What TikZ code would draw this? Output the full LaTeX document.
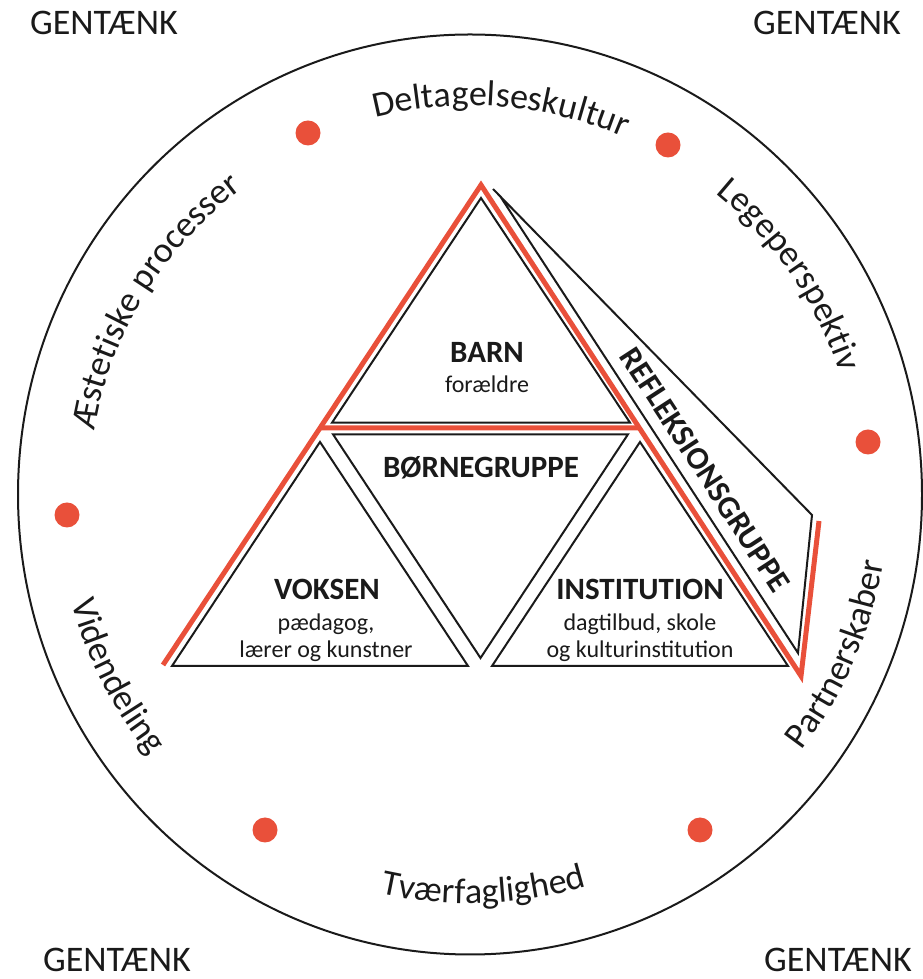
\documentclass[tikz,border=0pt]{standalone}
\usepackage{fontspec}
\setmainfont{Carlito}
\usetikzlibrary{decorations.text,calc}
\definecolor{redline}{HTML}{E9503A}
\definecolor{ink}{HTML}{1A1A1A}
\newcommand\arcfont{\fontsize{36}{43}\selectfont\color{ink}}
\begin{document}
\begin{tikzpicture}[x=1pt,y=1pt,
  tri/.style={draw=ink, line width=2pt, line join=miter},
  redl/.style={draw=redline, line width=5pt},
  reddot/.style={circle, fill=redline, minimum size=25pt, inner sep=0pt},
  lab/.style={font=\bfseries\fontsize{31}{36}\selectfont, text=ink, inner sep=0pt, anchor=base},
  sublab/.style={font=\fontsize{24}{28}\selectfont, text=ink, inner sep=0pt, anchor=base},
  corner/.style={font=\fontsize{36}{42}\selectfont, text=ink, inner sep=0pt, anchor=base west},
  arctext/.style={decorate, decoration={text along path, text align=center, text={|\arcfont|#1}}}
]
\useasboundingbox (0,0) rectangle (922,979);
\coordinate (C) at (470,484.5);
\draw[ink, line width=2pt] (C) ellipse [x radius=452, y radius=460];

% corner labels
\node[corner] (g1) at (30,944) {GENTÆNK};
\node[corner] (g2) at (753,944) {GENTÆNK};
\node[corner] (g3) at (43,7) {GENTÆNK};
\node[corner] (g4) at (764,7) {GENTÆNK};

% arc labels
\path[arctext=Deltagelseskultur] (C) ++(125.4:389) arc[start angle=125.4, end angle=45.4, radius=389];
\path[arctext=Æstetiske processer] (C) ++(193.5:381) arc[start angle=193.5, end angle=103.5, radius=381];
\path[arctext=Legeperspektiv] (C) ++(74.5:389) arc[start angle=74.5, end angle=-5.5, radius=389];
\path[arctext=Partnerskaber] (C) ++(-63.5:419) arc[start angle=-63.5, end angle=16.5, radius=419];
\path[arctext=Videndeling] (C) ++(167.2:413) arc[start angle=167.2, end angle=247.2, radius=413];
\path[arctext=Tværfaglighed] (C) ++(232:409) arc[start angle=232, end angle=312, radius=409];

% dots
\node[reddot] (d1) at (308,846) {};
\node[reddot] (d2) at (668,834) {};
\node[reddot] (d3) at (868,537) {};
\node[reddot] (d4) at (67,464) {};
\node[reddot] (d5) at (265,149) {};
\node[reddot] (d6) at (700,149) {};

% black triangles
\draw[tri] (481,781) coordinate (ba) -- (332,556.3) coordinate (bl) -- (630,556.3) coordinate (br) -- cycle;
\draw[tri] (333,544.7) coordinate (gl) -- (628,544.7) coordinate (gr) -- (480.5,321) coordinate (gb) -- cycle;
\draw[tri] (320,537) coordinate (va) -- (172,313) coordinate (vl) -- (468,313) coordinate (vr) -- cycle;
\draw[tri] (640,537) coordinate (ia) -- (492,313) coordinate (il) -- (788,313) coordinate (ir) -- cycle;

% reflection shape
\coordinate (fa) at (493,790);
\coordinate (fo) at (812,464);
\coordinate (fb) at (798,326);
\coordinate (fi) at (500,783);
\draw[tri] (fa) -- (fo) -- (fb) -- (fi);

% red outline
\coordinate (RL) at (163,314);
\coordinate (RA) at (481,794);
\coordinate (RB) at (801,303);
\coordinate (RT) at (819,458);
\draw[redl] (RL) -- (RA) -- (RB) -- (RT);
\draw[redl] ($(RA)!0.50625!(RL)$) -- ($(RA)!0.4949!(RB)$);

% labels
\node[lab] (barn) at (487,616) {BARN};
\node[sublab] (barn2) at (487,586) {forældre};
\node[lab] (born) at (481,501) {BØRNEGRUPPE};
\node[lab] (voks) at (327,379) {VOKSEN};
\node[sublab] (voks2) at (326,348) {pædagog,};
\node[sublab] (voks3) at (326,321) {lærer og kunstner};
\node[lab] (inst) at (640,379) {INSTITUTION};
\node[sublab] (inst2) at (640,348) {dagtilbud, skole};
\node[sublab] (inst3) at (640,321) {og kulturinstitution};
\node[font=\bfseries\fontsize{32}{38}\selectfont, text=ink, inner sep=0pt, rotate=-56.9] (refl) at (705,509) {REFLEKSIONSGRUPPE};
\end{tikzpicture}
\end{document}
